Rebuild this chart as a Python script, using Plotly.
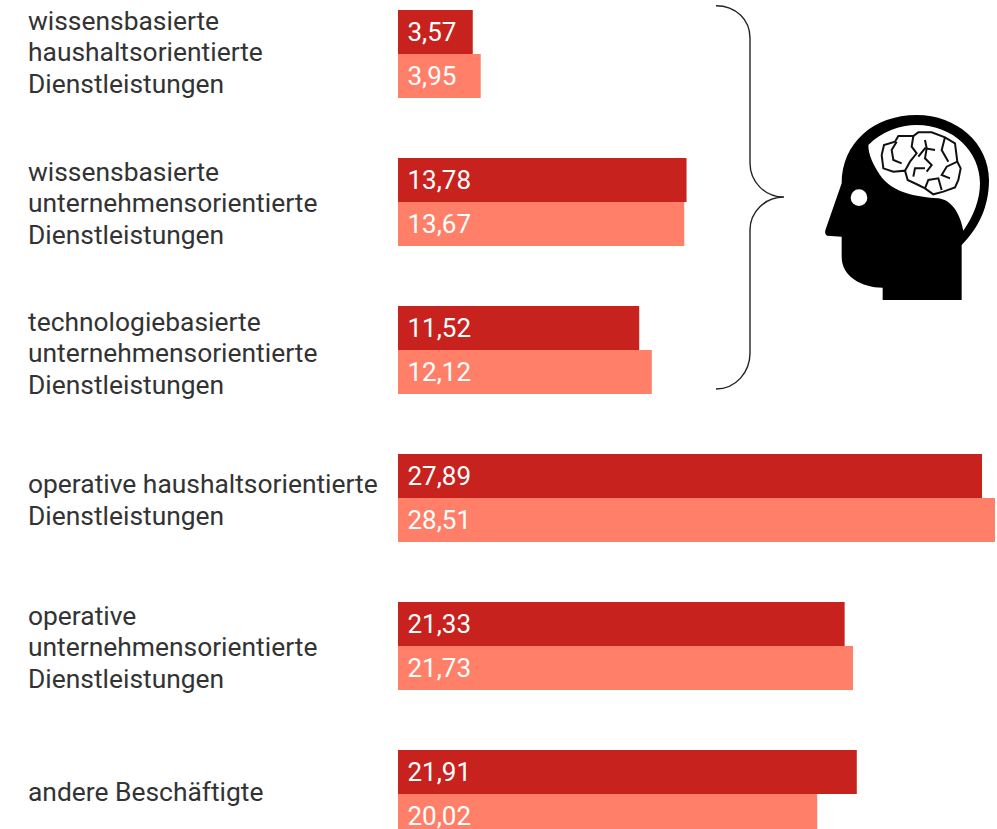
import plotly.graph_objects as go

categories = [
    "wissensbasierte<br>haushaltsorientierte<br>Dienstleistungen",
    "wissensbasierte<br>unternehmensorientierte<br>Dienstleistungen",
    "technologiebasierte<br>unternehmensorientierte<br>Dienstleistungen",
    "operative haushaltsorientierte<br>Dienstleistungen",
    "operative<br>unternehmensorientierte<br>Dienstleistungen",
    "andere Beschäftigte",
]
series_a = [3.57, 13.78, 11.52, 27.89, 21.33, 21.91]
series_b = [3.95, 13.67, 12.12, 28.51, 21.73, 20.02]

W, H = 997, 829
X0 = 398
PX_PER_UNIT = 20.94
ROW_STEP = 148
FIRST_ROW = 54
LINE_STEP = 31.5
LABEL_NUDGE = [2, -1, -3, -2, -1, 2]
DARK, LIGHT, TEXT = "#C8221F", "#FF7F68", "#333333"


def pt(x, y):
    return f"{x / W:.5f},{1 - y / H:.5f}"


def path(cmds):
    """cmds: list of (letter, [(x, y), ...]) in page pixels."""
    out = []
    for c, pts in cmds:
        out.append(c + " ".join(pt(x, y) for x, y in pts))
    return " ".join(out)


def zoomed(cmds):
    """Icon outlines sketched on a 3x grid anchored at (810, 100)."""
    return path([(c, [(810 + x / 3, 100 + y / 3) for x, y in pts]) for c, pts in cmds])


def smooth(points):
    """Open polyline through the given points, sketched on the icon grid."""
    return zoomed([("M", [points[0]])] + [("L", [p]) for p in points[1:]])


fig = go.Figure()
for name, vals, col in [("a", series_a, DARK), ("b", series_b, LIGHT)]:
    fig.add_trace(go.Bar(
        y=categories, x=vals, name=name, orientation="h",
        marker=dict(color=col, line=dict(width=0)),
        texttemplate="\u00a0%{x:.2f}", textposition="inside",
        insidetextanchor="start", textangle=0,
        textfont=dict(family="Roboto", size=26, color="white"),
        hoverinfo="skip",
    ))

shapes = []
# curly brace
shapes.append(dict(type="path", xref="paper", yref="paper", layer="above",
    line=dict(color="#222222", width=1.4),
    path=path([
        ("M", [(716, 5.7)]),
        ("C", [(736, 5.7), (750, 20), (750, 38)]),
        ("L", [(750, 163)]),
        ("C", [(750, 182), (765, 197), (784, 197)]),
        ("C", [(765, 197), (750, 212), (750, 230)]),
        ("L", [(750, 353)]),
        ("C", [(750, 372), (736, 389), (716, 389)]),
    ])))

# head silhouette
head = zoomed([
    ("M", [(455, 600)]), ("L", [(218, 600)]), ("L", [(218, 563)]),
    ("C", [(155, 562), (95, 530), (95, 470)]),
    ("L", [(95, 410)]), ("L", [(52, 407)]),
    ("C", [(45, 405), (44, 395), (47, 388)]),
    ("L", [(95, 250)]),
    ("C", [(95, 130), (190, 45), (320, 45)]),
    ("C", [(440, 45), (537, 130), (537, 240)]),
    ("C", [(537, 320), (505, 385), (455, 435)]),
    ("Z", []),
])
shapes.append(dict(type="path", xref="paper", yref="paper", layer="above",
                   fillcolor="black", line=dict(width=0), path=head))
inner = zoomed([
    ("M", [(175, 135)]),
    ("C", [(215, 95), (270, 75), (320, 75)]),
    ("C", [(430, 75), (510, 155), (510, 250)]),
    ("C", [(510, 300), (490, 350), (460, 392)]),
    ("C", [(450, 340), (425, 300), (385, 295)]),
    ("C", [(300, 290), (240, 270), (210, 225)]),
    ("C", [(190, 195), (175, 165), (175, 135)]),
    ("Z", []),
])
shapes.append(dict(type="path", xref="paper", yref="paper", layer="above",
                   fillcolor="white", line=dict(width=0), path=inner))
shapes.append(dict(type="circle", xref="paper", yref="paper", layer="above",
                   fillcolor="white", line=dict(width=0),
                   x0=(810 + 122 / 3) / W, x1=(810 + 172 / 3) / W,
                   y0=1 - (100 + 318 / 3) / H, y1=1 - (100 + 268 / 3) / H))

# brain lines
brain_lines = [
    [(215, 165), (222, 135), (255, 125), (265, 108), (310, 108), (325, 97), (365, 97),
     (405, 112), (435, 130), (442, 185), (452, 205), (445, 240), (435, 262), (400, 275),
     (370, 283), (345, 265), (325, 255), (293, 240), (285, 212), (250, 215), (220, 205), (215, 165)],
    [(260, 125), (245, 150), (250, 180), (275, 190)],
    [(310, 108), (305, 140), (320, 160), (300, 185), (285, 212)],
    [(325, 170), (345, 145), (375, 150)],
    [(345, 120), (350, 145), (345, 175), (365, 195), (350, 215)],
    [(405, 112), (395, 150), (415, 185)],
    [(442, 185), (410, 200), (395, 225), (420, 235)],
    [(310, 230), (315, 205), (345, 205)],
    [(345, 265), (355, 240), (385, 235), (395, 270)],
]
for line in brain_lines:
    shapes.append(dict(type="path", xref="paper", yref="paper", layer="above",
                       line=dict(color="#111111", width=2), path=smooth(line)))

annotations = []
for c, nudge in zip(categories, LABEL_NUDGE):
    lines = c.split("<br>")
    for i, txt in enumerate(lines):
        annotations.append(dict(
            text=txt, xref="paper", yref="y", x=(28 - 2) / W, y=c,
            xanchor="left", yanchor="middle", align="left", showarrow=False,
            yshift=((len(lines) - 1) / 2 - i) * LINE_STEP + nudge,
            font=dict(family="Roboto", size=26.4, color=TEXT),
        ))

fig.update_layout(
    width=W, height=H, margin=dict(l=0, r=0, t=0, b=0),
    paper_bgcolor="white", plot_bgcolor="white",
    barmode="group", bargap=1 - 88 / ROW_STEP, bargroupgap=0,
    showlegend=False, separators=",.",
    xaxis=dict(domain=[X0 / W, 1], range=[0, (W - X0) / PX_PER_UNIT], visible=False),
    yaxis=dict(type="category", categoryorder="array", categoryarray=categories,
               range=[(H - FIRST_ROW) / ROW_STEP, -FIRST_ROW / ROW_STEP], visible=False),
    shapes=shapes, annotations=annotations,
)
fig.write_html("out.html", config={"displayModeBar": False},
               post_script="document.body.style.margin='0';")
